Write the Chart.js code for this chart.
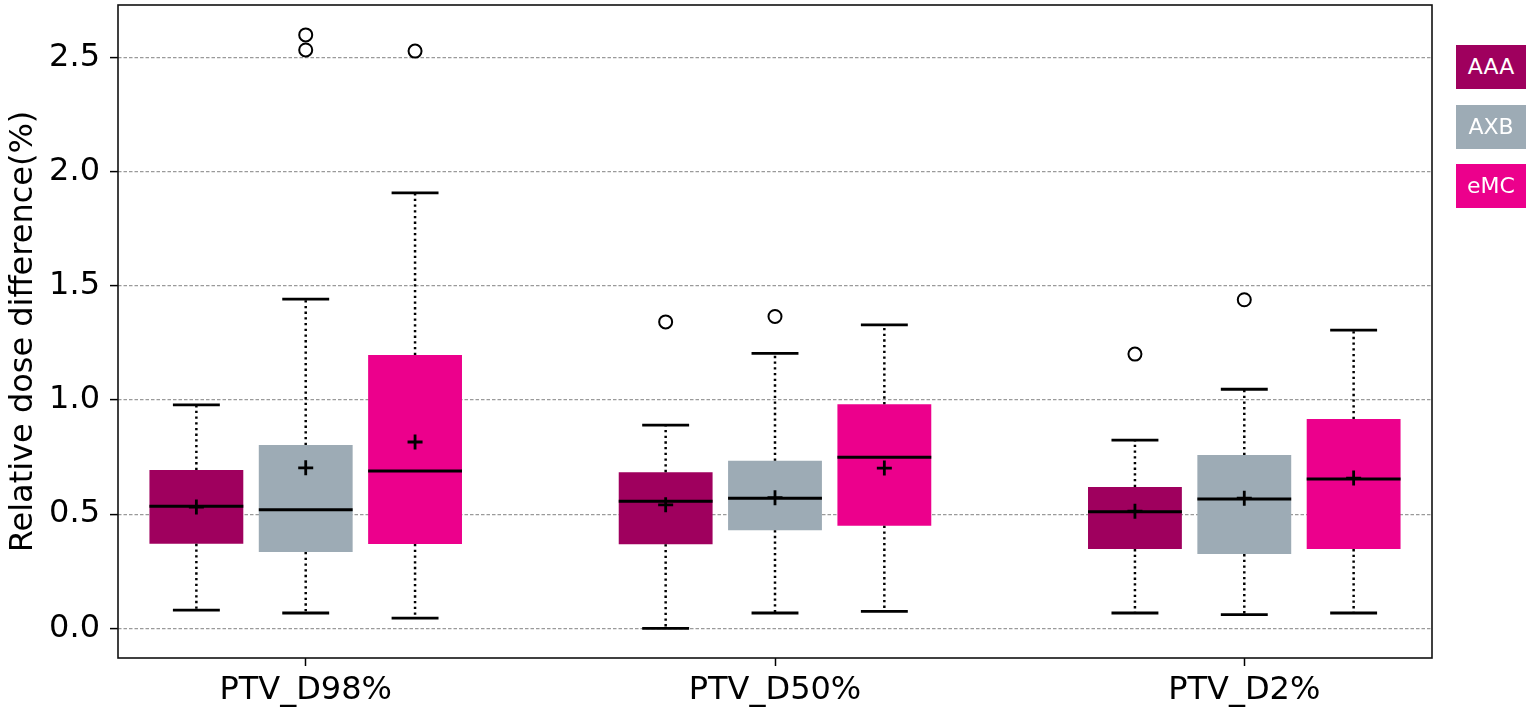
<!DOCTYPE html>
<html>
<head>
<meta charset="utf-8">
<script src="https://cdn.jsdelivr.net/npm/chart.js@4.4.1/dist/chart.umd.min.js"></script>
<style>
  html, body { margin: 0; padding: 0; background: #ffffff; }
  #wrap { position: relative; width: 1536px; height: 712px; }
  #legend .lg {
    position: absolute; left: 1456px; width: 70px; height: 44px; line-height: 44px;
    color: #ffffff; font-family: "DejaVu Sans", sans-serif; font-size: 22px; text-align: center;
  }
</style>
</head>
<body>
<div id="wrap">
  <canvas id="c" width="1536" height="712"></canvas>
  <div id="legend"></div>
</div>
<script>
// ---------------- data ----------------
const CATEGORIES = ['PTV_D98%', 'PTV_D50%', 'PTV_D2%'];
const METHODS = ['AAA', 'AXB', 'eMC'];
const Y_TICKS = [0.0, 0.5, 1.0, 1.5, 2.0, 2.5];

const AAA_Q1       = [0.370, 0.368, 0.347];
const AAA_Q3       = [0.693, 0.684, 0.619];
const AAA_MEDIAN   = [0.535, 0.556, 0.511];
const AAA_MEAN     = [0.531, 0.541, 0.513];
const AAA_LOW      = [0.080, 0.000, 0.067];
const AAA_HIGH     = [0.979, 0.890, 0.824];
const AAA_OUTLIERS = [[], [1.342], [1.201]];

const AXB_Q1       = [0.334, 0.430, 0.325];
const AXB_Q3       = [0.803, 0.734, 0.759];
const AXB_MEDIAN   = [0.519, 0.570, 0.566];
const AXB_MEAN     = [0.703, 0.572, 0.570];
const AXB_LOW      = [0.067, 0.067, 0.060];
const AXB_HIGH     = [1.442, 1.204, 1.047];
const AXB_OUTLIERS = [[2.533, 2.599], [1.366], [1.439]];

const EMC_Q1       = [0.369, 0.449, 0.347];
const EMC_Q3       = [1.197, 0.981, 0.917];
const EMC_MEDIAN   = [0.689, 0.749, 0.654];
const EMC_MEAN     = [0.816, 0.702, 0.658];
const EMC_LOW      = [0.045, 0.074, 0.067];
const EMC_HIGH     = [1.907, 1.329, 1.306];
const EMC_OUTLIERS = [[2.528], [], []];

// ---------------- styles / layout ----------------
const COLORS = ['#9f005e', '#9dabb5', '#ec008c'];
const OFFSETS = [-0.233, 0, 0.233];
const OFFSET_STEP = 0.233;
const BOX_W = 0.2;
const CAP_W = 0.1;

const Q1 = [AAA_Q1, AXB_Q1, EMC_Q1];
const Q3 = [AAA_Q3, AXB_Q3, EMC_Q3];
const MED = [AAA_MEDIAN, AXB_MEDIAN, EMC_MEDIAN];
const MEAN = [AAA_MEAN, AXB_MEAN, EMC_MEAN];
const LOW = [AAA_LOW, AXB_LOW, EMC_LOW];
const HIGH = [AAA_HIGH, AXB_HIGH, EMC_HIGH];
const OUT = [AAA_OUTLIERS, AXB_OUTLIERS, EMC_OUTLIERS];

Chart.defaults.font.family = '"DejaVu Sans", sans-serif';
Chart.defaults.color = '#000';

const datasets = [];

// boxes (floating bars from Q1 to Q3)
METHODS.forEach((m, k) => {
  datasets.push({
    type: 'bar',
    label: m,
    data: CATEGORIES.map((c, i) => ({ x: i + OFFSETS[k], y: [Q1[k][i], Q3[k][i]] })),
    backgroundColor: COLORS[k],
    borderWidth: 0,
    grouped: false,
    categoryPercentage: 1,
    barPercentage: BOX_W / OFFSET_STEP,
    order: 10
  });
});

const whiskerPts = [];
const capPts = [];
const medianPts = [];
const meanPts = [];
const outlierPts = [];
METHODS.forEach((m, k) => {
  CATEGORIES.forEach((c, i) => {
    const x = i + OFFSETS[k];
    whiskerPts.push({ x, y: Q3[k][i] }, { x, y: HIGH[k][i] }, { x, y: null });
    whiskerPts.push({ x, y: Q1[k][i] }, { x, y: LOW[k][i] }, { x, y: null });
    capPts.push({ x: x - CAP_W / 2, y: HIGH[k][i] }, { x: x + CAP_W / 2, y: HIGH[k][i] }, { x, y: null });
    capPts.push({ x: x - CAP_W / 2, y: LOW[k][i] }, { x: x + CAP_W / 2, y: LOW[k][i] }, { x, y: null });
    medianPts.push({ x: x - BOX_W / 2, y: MED[k][i] }, { x: x + BOX_W / 2, y: MED[k][i] }, { x, y: null });
    meanPts.push({ x, y: MEAN[k][i] });
    OUT[k][i].forEach(v => outlierPts.push({ x, y: v }));
  });
});

datasets.push({
  type: 'line', label: 'whiskers', data: whiskerPts,
  borderColor: '#000', borderWidth: 2.5, borderDash: [2.3, 3.4], borderCapStyle: 'butt',
  pointRadius: 0, fill: false, tension: 0, spanGaps: false, order: 5
});
datasets.push({
  type: 'line', label: 'caps', data: capPts,
  borderColor: '#000', borderWidth: 2.8, pointRadius: 0, fill: false, tension: 0, spanGaps: false, order: 4
});
datasets.push({
  type: 'line', label: 'medians', data: medianPts,
  borderColor: '#000', borderWidth: 3, pointRadius: 0, fill: false, tension: 0, spanGaps: false, order: 3
});
datasets.push({
  type: 'scatter', label: 'means', data: meanPts,
  pointStyle: 'cross', pointRadius: 7.5, pointBorderWidth: 2.8, pointBorderColor: '#000',
  pointBackgroundColor: '#000', order: 1
});
datasets.push({
  type: 'scatter', label: 'outliers', data: outlierPts,
  pointStyle: 'circle', pointRadius: 6.5, pointBorderWidth: 2, pointBorderColor: '#000',
  pointBackgroundColor: 'rgba(255,255,255,0)', order: 2
});

const framePlugin = {
  id: 'frame',
  afterDraw(chart) {
    const { ctx, chartArea: a } = chart;
    ctx.save();
    ctx.strokeStyle = '#111';
    ctx.lineWidth = 1.6;
    ctx.strokeRect(a.left, a.top, a.right - a.left, a.bottom - a.top);
    ctx.restore();
  }
};

new Chart(document.getElementById('c'), {
  type: 'bar',
  data: { datasets },
  plugins: [framePlugin],
  options: {
    responsive: false,
    animation: false,
    events: [],
    devicePixelRatio: 1,
    layout: { autoPadding: false, padding: { left: 0, right: 104, top: 5, bottom: 0 } },
    plugins: { legend: { display: false }, tooltip: { enabled: false } },
    scales: {
      x: {
        type: 'linear', min: -0.4, max: 2.4, offset: false,
        grid: { display: true, drawOnChartArea: false, drawTicks: true, tickLength: 8,
                tickColor: '#000', tickWidth: 1.5, tickBorderDash: [], offset: false },
        border: { display: false },
        ticks: { font: { size: 32 }, color: '#000', padding: 5, autoSkip: false, maxRotation: 0,
                 callback: (v) => (CATEGORIES[v] !== undefined ? CATEGORIES[v] : '') },
        afterBuildTicks: (s) => { s.ticks = CATEGORIES.map((c, i) => ({ value: i })); },
        afterFit: (s) => { s.height = 54; s.paddingLeft = 0; s.paddingRight = 0; s.paddingTop = 0; s.paddingBottom = 0; }
      },
      y: {
        type: 'linear', min: -0.13, max: 2.73,
        grid: { color: '#9a9a9a', lineWidth: 1.2, tickColor: '#000', tickWidth: 1.5,
                tickLength: 8, tickBorderDash: [] },
        border: { display: false, dash: [3.5, 2] },
        ticks: { font: { size: 32 }, color: '#000', padding: 10,
                 callback: (v) => Number(v).toFixed(1) },
        title: { display: true, text: 'Relative dose difference(%)', font: { size: 32 },
                 color: '#000', padding: { top: 4, bottom: 4 } },
        afterBuildTicks: (s) => { s.ticks = Y_TICKS.map(v => ({ value: v })); },
        afterFit: (s) => { s.width = 118; s.paddingTop = 0; s.paddingBottom = 0; s.paddingLeft = 0; s.paddingRight = 0; }
      }
    }
  }
});

// legend (HTML boxes with text inside)
const legend = document.getElementById('legend');
METHODS.forEach((m, k) => {
  const d = document.createElement('div');
  d.className = 'lg';
  d.style.top = (45 + k * 59.5) + 'px';
  d.style.background = COLORS[k];
  d.textContent = m;
  legend.appendChild(d);
});
</script>
</body>
</html>
